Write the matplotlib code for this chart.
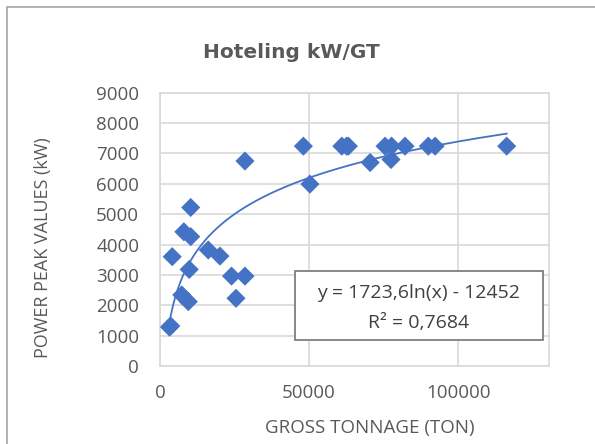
import numpy as np
import matplotlib
matplotlib.use("Agg")
import matplotlib.pyplot as plt
from matplotlib.patches import Rectangle

# gross tonnage (ton) vs power peak (kW)
gross_tonnage = [3200, 3600, 4100, 7300, 9500, 9800, 8000, 10300, 10300,
                 16200, 20100, 24000, 28500, 25500, 28500, 48100, 50300,
                 61000, 62600, 63200, 70500, 75500, 77700, 77500, 82200,
                 90000, 92300, 116300]
power_peak = [1280, 1320, 3600, 2340, 2120, 3180, 4420, 4260, 5220,
              3820, 3620, 2960, 2960, 2230, 6750, 7240, 5990,
              7240, 7240, 7240, 6700, 7240, 7240, 6800, 7240,
              7240, 7240, 7240]

# log trendline coefficients as printed on the chart
trend_a = 1723.6
trend_b = -12452
r_squared = "0,7684"

y_ticks = [0, 1000, 2000, 3000, 4000, 5000, 6000, 7000, 8000, 9000]
x_ticks = [0, 50000, 100000]

grey = "#595959"
blue = "#4472C4"
plt.rcParams["font.family"] = ["Open Sans", "DejaVu Sans"]

W, H = 595, 444
fig = plt.figure(figsize=(W / 100, H / 100), dpi=100)
ax = fig.add_axes([160 / W, 1 - 366 / H, (549 - 160) / W, (366 - 92.7) / H])

# outer chart border
fig.patches.append(Rectangle((7 / W, -0.1), 1.2, 1 - 7 / H + 0.1,
                             transform=fig.transFigure, fill=False,
                             edgecolor="#a6a6a6", lw=1.2))

ax.scatter(gross_tonnage, power_peak, marker="D", s=95, color=blue,
           edgecolors="none", zorder=3)

xs = np.linspace(min(gross_tonnage), max(gross_tonnage), 300)
ax.plot(xs, trend_a * np.log(xs) + trend_b, color=blue, lw=1.3, zorder=2)

ax.set_xlim(0, 130500)
ax.set_ylim(0, 9000)
ax.set_xticks(x_ticks)
ax.set_yticks(y_ticks)
ax.tick_params(length=0, labelsize=13.5, labelcolor=grey)
ax.tick_params(axis="y", pad=15)
ax.tick_params(axis="x", pad=13)
ax.grid(True, color="#d9d9d9", lw=1.2)
ax.set_axisbelow(True)
for s in ax.spines.values():
    s.set_color("#d9d9d9")
    s.set_linewidth(1.2)

fig.text(370 / W, 1 - 428 / H, "GROSS TONNAGE (TON)", ha="center",
         va="center", fontsize=13.5, color=grey)
fig.text(43 / W, 1 - 248 / H, "POWER PEAK VALUES (kW)", ha="center",
         va="center", rotation=90, fontsize=13, color=grey)

fig.text(291 / W, 1 - 53 / H, "Hoteling kW/GT", ha="center", va="center",
         fontsize=14.5, fontweight="bold", color=grey, family="DejaVu Sans")

# equation box
fig.patches.append(Rectangle((295 / W, 1 - 340 / H), 248 / W, 69 / H,
                             transform=fig.transFigure, facecolor="white",
                             edgecolor="#7f7f7f", lw=1.3, zorder=5))
fig.text(419 / W, 1 - 293 / H, "y = 1723,6ln(x) - 12452", ha="center",
         va="center", fontsize=14, color="#404040", zorder=6)
fig.text(419 / W, 1 - 323 / H, "R² = " + r_squared, ha="center",
         va="center", fontsize=14, color="#404040", zorder=6)

fig.savefig("out.png", dpi=100)
